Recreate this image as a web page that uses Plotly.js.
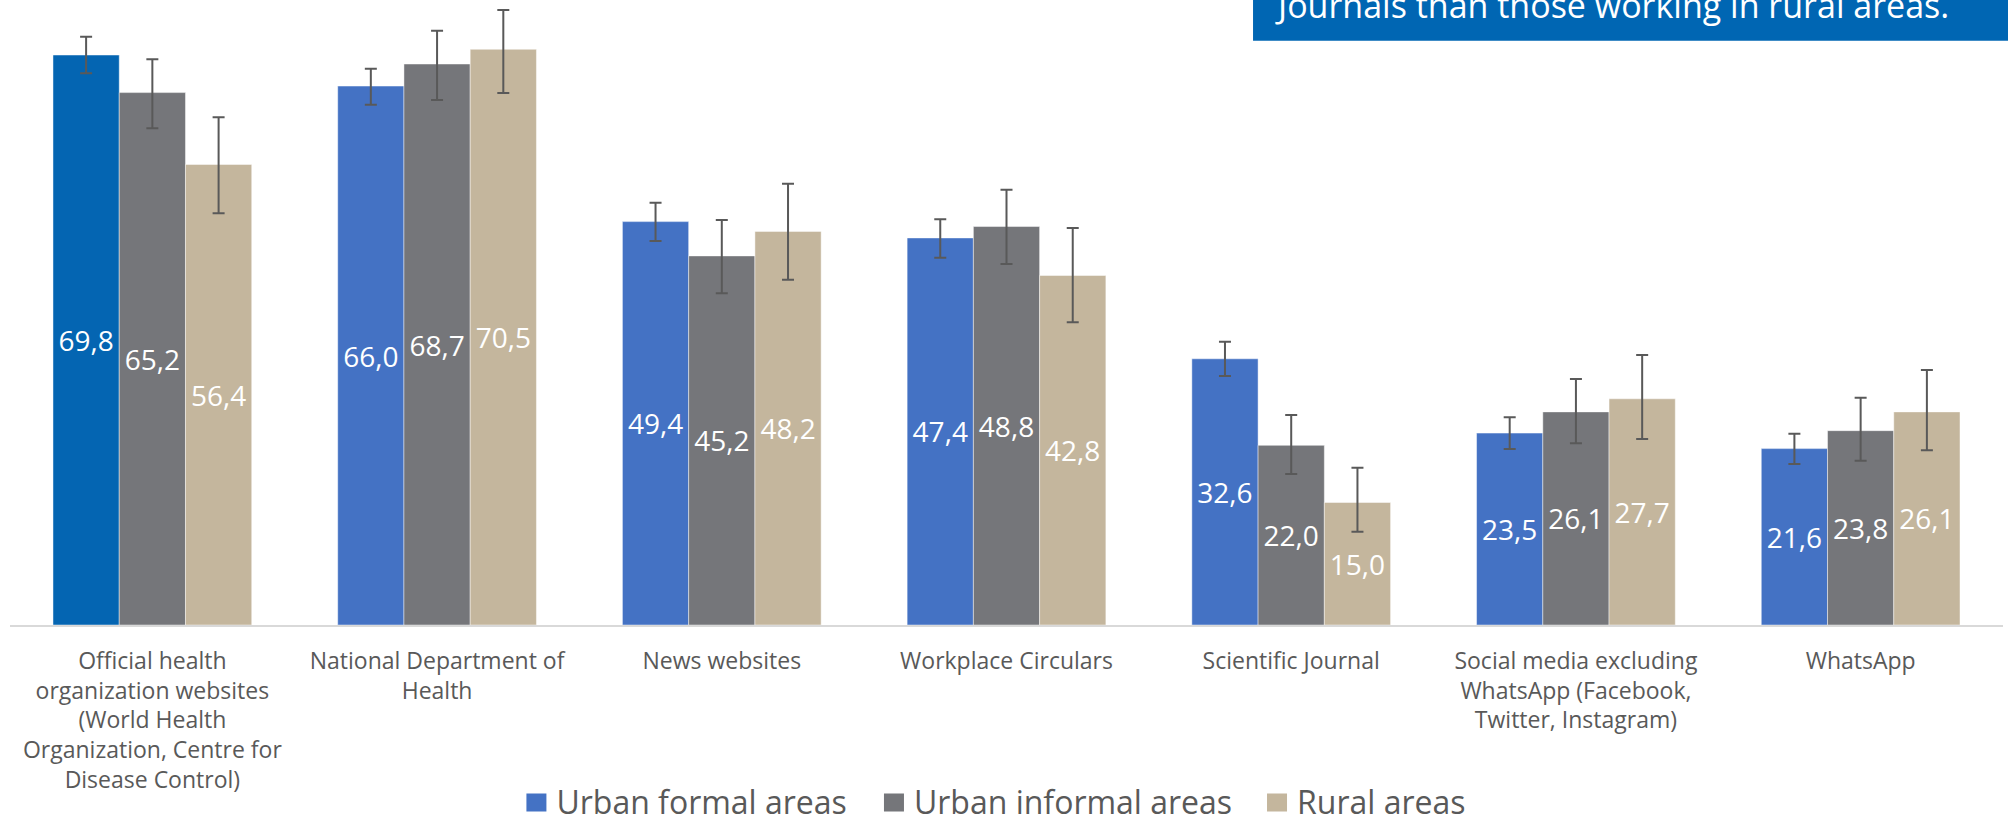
<!DOCTYPE html>
<html><head><meta charset="utf-8">
<script src="https://cdn.plot.ly/plotly-3.0.1.min.js"></script>
<style>html,body{margin:0;padding:0;background:#fff;overflow:hidden;} #chart{width:2008px;height:823px;}</style>
</head><body><div id="chart"></div>
<script>
// ---- data ----
const categories = [
  'Official health<br>organization websites<br>(World Health<br>Organization, Centre for<br>Disease Control)',
  'National Department of<br>Health',
  'News websites',
  'Workplace Circulars',
  'Scientific Journal',
  'Social media excluding<br>WhatsApp (Facebook,<br>Twitter, Instagram)',
  'WhatsApp'
];
const seriesNames = ['Urban formal areas', 'Urban informal areas', 'Rural areas'];
const urbanFormal   = [69.8, 66.0, 49.4, 47.4, 32.6, 23.5, 21.6];
const urbanInformal = [65.2, 68.7, 45.2, 48.8, 22.0, 26.1, 23.8];
const rural         = [56.4, 70.5, 48.2, 42.8, 15.0, 27.7, 26.1];
const urbanFormalErrPlus    = [2.24, 2.12, 2.31, 2.28, 2.09, 1.93, 1.82];
const urbanFormalErrMinus   = [2.24, 2.29, 2.38, 2.42, 2.11, 1.95, 1.89];
const urbanInformalErrPlus  = [4.08, 4.08, 4.40, 4.51, 3.71, 4.03, 4.03];
const urbanInformalErrMinus = [4.37, 4.41, 4.58, 4.59, 3.51, 3.85, 3.69];
const ruralErrPlus          = [5.77, 4.81, 5.84, 5.82, 4.26, 5.36, 5.13];
const ruralErrMinus         = [5.99, 5.35, 5.91, 5.73, 3.58, 4.92, 4.70];
const calloutText = 'Journals than those working in rural areas.';

// ---- styles ----
const FONT = 'Open Sans, Noto Sans, sans-serif';
const BLUE = '#4472C4', BLUE_DARK = '#0465B2', GRAY = '#75767A', TAN = '#C4B69D';
const ERR_COLOR = '#595959';
const fmt = v => v.toFixed(1).replace('.', ',');

function barTrace(name, values, plus, minus, colors) {
  return {
    type: 'bar', name: name, x: categories, y: values,
    text: values.map(fmt), textposition: 'inside', insidetextanchor: 'middle',
    textangle: 0, constraintext: 'none',
    textfont: {family: FONT, size: 28, color: '#ffffff'},
    marker: {color: colors, line: {color: 'rgba(255,255,255,0.45)', width: 1}},
    error_y: {type: 'data', symmetric: false, array: plus, arrayminus: minus,
              color: ERR_COLOR, thickness: 2, width: 6},
    showlegend: false, hoverinfo: 'skip'
  };
}
function legendProxy(name, color, legendId) {
  return {type: 'scatter', mode: 'markers', name: name, x: [null], y: [null],
          legend: legendId,
          marker: {symbol: 'square', size: 16, color: color}, hoverinfo: 'skip'};
}

const data = [
  barTrace(seriesNames[0], urbanFormal, urbanFormalErrPlus, urbanFormalErrMinus,
           urbanFormal.map((v, i) => i === 0 ? BLUE_DARK : BLUE)),
  barTrace(seriesNames[1], urbanInformal, urbanInformalErrPlus, urbanInformalErrMinus, GRAY),
  barTrace(seriesNames[2], rural, ruralErrPlus, ruralErrMinus, TAN),
  legendProxy(seriesNames[0], BLUE, 'legend'),
  legendProxy(seriesNames[1], GRAY, 'legend2'),
  legendProxy(seriesNames[2], TAN, 'legend3')
];

function legendBox(x) {
  return {
    orientation: 'h', x: x, xanchor: 'left', y: -0.2826, yanchor: 'middle',
    font: {family: FONT, size: 32, color: '#595959'}, itemsizing: 'trace',
    bgcolor: 'rgba(0,0,0,0)', borderwidth: 0
  };
}

const layout = {
  width: 2008, height: 823,
  margin: {l: 10, r: 5, t: 0, b: 198, pad: 0, autoexpand: false},
  paper_bgcolor: '#ffffff', plot_bgcolor: '#ffffff',
  font: {family: FONT, color: '#595959'},
  barmode: 'group', bargap: 0.302, bargroupgap: 0,
  xaxis: {
    type: 'category', showline: true, linecolor: '#D9D9D9', linewidth: 2,
    showgrid: false, zeroline: false, ticks: '', fixedrange: true, automargin: false,
    ticklabelstandoff: 14,
    tickfont: {family: FONT, size: 23, color: '#595959'}
  },
  yaxis: {range: [0, 76.54], visible: false, showgrid: false, zeroline: false, fixedrange: true},
  legend: legendBox(0.2541),
  legend2: legendBox(0.4335),
  legend3: legendBox(0.6257),
  shapes: [{
    type: 'rect', xref: 'paper', yref: 'paper', x0: 0.6237, x1: 1.1, y0: 0.9349, y1: 1.1,
    fillcolor: '#0066B3', line: {width: 0}, layer: 'above'
  }],
  annotations: [{
    xref: 'paper', yref: 'paper', x: 0.6337, y: 0.9918, xanchor: 'left', yanchor: 'middle',
    text: calloutText, showarrow: false,
    font: {family: FONT, size: 34, color: '#ffffff'}
  }],
  hovermode: false
};

Plotly.newPlot('chart', data, layout, {staticPlot: true, displayModeBar: false}).then(gd => {
  // enlarge legend swatches to the reference's ~20x18 squares
  gd.querySelectorAll('.legendpoints path.scatterpts').forEach(p => {
    p.setAttribute('d', 'M10,10H-10V-8H10Z');
  });
});
</script>
</body></html>
